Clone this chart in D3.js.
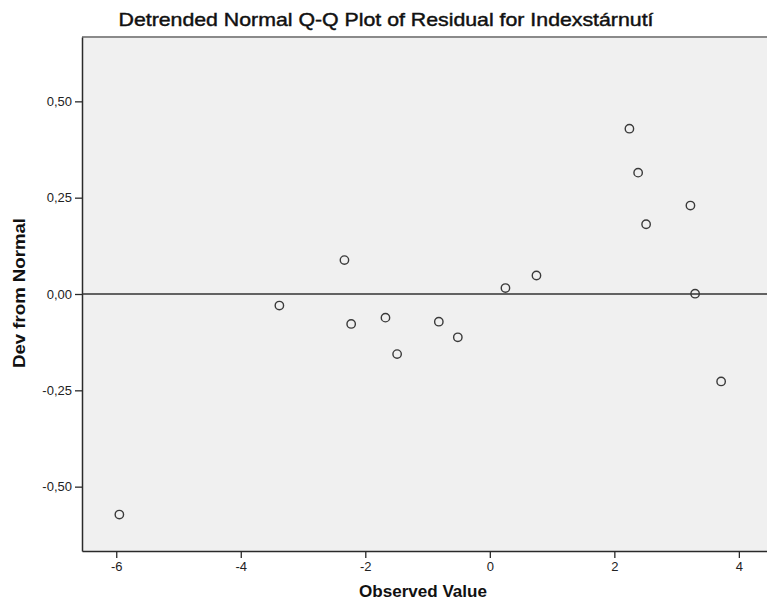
<!DOCTYPE html>
<html>
<head>
<meta charset="utf-8">
<script src="https://cdn.jsdelivr.net/npm/d3@7"></script>
<style>
  html, body { margin: 0; padding: 0; background: #ffffff; }
  svg { display: block; font-family: "Liberation Sans", Arial, sans-serif; }
</style>
</head>
<body>
<svg id="chart" width="767" height="608"></svg>
<script>
// Detrended normal Q-Q residuals: observed value vs. deviation from normal
const observed = [-5.95, -3.38, -2.335, -2.227, -1.676, -1.489, -0.819, -0.514,
                  0.251, 0.749, 2.242, 2.382, 2.51, 3.222, 3.297, 3.715];
const devFromNormal = [-0.5725, -0.030, 0.088, -0.0777, -0.0614, -0.156, -0.0718, -0.1124,
                       0.0155, 0.048, 0.429, 0.315, 0.181, 0.2295, 0.0008, -0.227];

const xTicks = [-6, -4, -2, 0, 2, 4];
const xTickLabels = ["-6", "-4", "-2", "0", "2", "4"];
const yTicks = [-0.5, -0.25, 0, 0.25, 0.5];
const yTickLabels = ["-0,50", "-0,25", "0,00", "0,25", "0,50"];

const titleText = "Detrended Normal Q-Q Plot of Residual for Indexstárnutí";
const xTitle = "Observed Value";
const yTitle = "Dev from Normal";

const svg = d3.select("#chart");
const plot = { left: 82, top: 37, right: 770, bottom: 551 };

const x = d3.scaleLinear().domain([-6.55, 4.5]).range([plot.left, plot.right]);
const y = d3.scaleLinear().domain([-0.667, 0.667]).range([plot.bottom, plot.top]);

// plot background
svg.append("rect")
  .attr("x", plot.left).attr("y", plot.top)
  .attr("width", plot.right - plot.left).attr("height", plot.bottom - plot.top)
  .attr("fill", "#f0f0f0");

// frame: light top edge, dark left and bottom edges
svg.append("line")
  .attr("x1", plot.left).attr("x2", plot.right)
  .attr("y1", plot.top).attr("y2", plot.top)
  .attr("stroke", "#8a8a8a").attr("stroke-width", 2);

// axes
const xAxis = d3.axisBottom(x)
  .tickValues(xTicks)
  .tickFormat((d, i) => xTickLabels[i])
  .tickSize(7).tickPadding(4).tickSizeOuter(0);
const yAxis = d3.axisLeft(y)
  .tickValues(yTicks)
  .tickFormat((d, i) => yTickLabels[i])
  .tickSize(7).tickPadding(3).tickSizeOuter(0);

const gx = svg.append("g")
  .attr("transform", `translate(0,${plot.bottom})`)
  .call(xAxis);
const gy = svg.append("g")
  .attr("transform", `translate(${plot.left},0)`)
  .call(yAxis);

[gx, gy].forEach(g => {
  g.select(".domain").attr("stroke", "#2a2a2a").attr("stroke-width", 1.5);
  g.selectAll(".tick line").attr("stroke", "#2a2a2a").attr("stroke-width", 1.3);
  g.selectAll(".tick text")
    .attr("fill", "#222")
    .style("font-family", "'Liberation Sans', Arial, sans-serif")
    .style("font-size", "13px");
});

// reference line at zero deviation
svg.append("line")
  .attr("x1", plot.left).attr("x2", plot.right)
  .attr("y1", y(0)).attr("y2", y(0))
  .attr("stroke", "#333").attr("stroke-width", 1.6);

// points
svg.append("g")
  .selectAll("circle")
  .data(observed.map((v, i) => [v, devFromNormal[i]]))
  .join("circle")
  .attr("cx", d => x(d[0]))
  .attr("cy", d => y(d[1]))
  .attr("r", 4.2)
  .attr("fill", "none")
  .attr("stroke", "#3a3a3a")
  .attr("stroke-width", 1.4);

// titles
svg.append("text")
  .attr("x", 386).attr("y", 26)
  .attr("text-anchor", "middle")
  .attr("fill", "#111")
  .attr("stroke", "#111")
  .attr("stroke-width", 0.45)
  .attr("textLength", 535)
  .attr("lengthAdjust", "spacingAndGlyphs")
  .style("font-size", "19px")
  .text(titleText);

svg.append("text")
  .attr("x", 423).attr("y", 597)
  .attr("text-anchor", "middle")
  .attr("fill", "#111")
  .attr("textLength", 128)
  .attr("lengthAdjust", "spacingAndGlyphs")
  .style("font-size", "16px")
  .style("font-weight", "bold")
  .text(xTitle);

svg.append("text")
  .attr("transform", `translate(25,${293}) rotate(-90)`)
  .attr("text-anchor", "middle")
  .attr("fill", "#111")
  .attr("textLength", 150)
  .attr("lengthAdjust", "spacingAndGlyphs")
  .style("font-size", "16px")
  .style("font-weight", "bold")
  .text(yTitle);
</script>
</body>
</html>
